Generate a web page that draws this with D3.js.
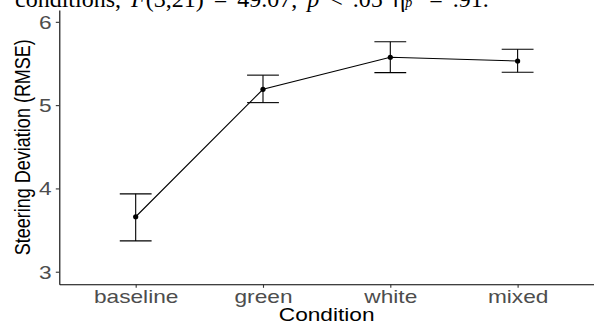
<!DOCTYPE html>
<html>
<head>
<meta charset="utf-8">
<script src="https://cdn.jsdelivr.net/npm/d3@7"></script>
<style>
  html, body { margin: 0; padding: 0; background: #fff; }
  svg { display: block; }
</style>
</head>
<body>
<svg id="chart" width="594" height="322"></svg>
<script>
// ---- data ----
const categories = ["baseline", "green", "white", "mixed"];
const meanValues = [3.66, 5.19, 5.575, 5.53];
const lowerValues = [3.37, 5.03, 5.39, 5.395];
const upperValues = [3.935, 5.36, 5.76, 5.67];
const yTickValues = [3, 4, 5, 6];
const xTitle = "Condition";
const yTitle = "Steering Deviation (RMSE)";

(function () {
const W = 594, H = 322;
const pLeft = 59.3, pRight = 594, pTop = 10, pBottom = 284.3;
const stretch = 1.26;

const svg = d3.select("#chart");

const x = d3.scalePoint().domain(categories).range([pLeft, pRight]).padding(0.6);
const y = d3.scaleLinear().domain([2.849, 6.142]).range([pBottom, pTop]);

// top clipped sentence
const sentence = svg.append("text")
  .attr("x", 15).attr("y", 7)
  .attr("font-family", "'Liberation Serif', 'Times New Roman', serif")
  .attr("font-size", 24)
  .attr("fill", "#000")
  .style("word-spacing", "4px");
sentence.append("tspan").text("conditions, ");
sentence.append("tspan").attr("font-style", "italic").text("F");
sentence.append("tspan").text("(3,21) = 49.07, ");
sentence.append("tspan").attr("font-style", "italic").text("p");
sentence.append("tspan").text(" < .05 η");
sentence.append("tspan").attr("font-style", "italic").attr("font-size", 14).text("p");
sentence.append("tspan").attr("font-size", 14).attr("dy", -10).text("2");
sentence.append("tspan").attr("dy", 10).text(" = .91.");

const fontSans = "'Liberation Sans', Arial, Helvetica, sans-serif";

// y axis
const yAxis = svg.append("g")
  .attr("transform", `translate(${pLeft},0)`)
  .call(d3.axisLeft(y).tickValues(yTickValues).tickSize(3.5).tickSizeOuter(0).tickFormat(d3.format("d")));
yAxis.select(".domain").attr("stroke", "#000").attr("stroke-width", 1.1);
yAxis.selectAll(".tick line").attr("stroke", "#333").attr("stroke-width", 1.1);
yAxis.selectAll(".tick text")
  .attr("x", null).attr("dy", "0.35em")
  .attr("transform", `translate(-7.6,0) scale(${stretch},1)`)
  .attr("text-anchor", "end")
  .attr("fill", "#4d4d4d")
  .attr("font-family", fontSans).attr("font-size", 18);

// x axis
const xAxis = svg.append("g")
  .attr("transform", `translate(0,${pBottom})`)
  .call(d3.axisBottom(x).tickSize(3.5).tickSizeOuter(0));
xAxis.select(".domain").attr("stroke", "#000").attr("stroke-width", 1.1);
xAxis.selectAll(".tick line").attr("stroke", "#333").attr("stroke-width", 1.1);
xAxis.selectAll(".tick text")
  .attr("y", null).attr("dy", null)
  .attr("transform", `translate(0,18.7) scale(${stretch},1)`)
  .attr("text-anchor", "middle")
  .attr("fill", "#4d4d4d")
  .attr("font-family", fontSans).attr("font-size", 18);

// axis titles
svg.append("text")
  .attr("transform", `translate(${(pLeft + pRight) / 2},321) scale(${stretch},1)`)
  .attr("text-anchor", "middle")
  .attr("font-family", fontSans).attr("font-size", 18).attr("fill", "#000")
  .text(xTitle);

svg.append("text")
  .attr("transform", `translate(29.5,${(pTop + pBottom) / 2}) scale(${stretch},1) rotate(-90)`)
  .attr("text-anchor", "middle")
  .attr("font-family", fontSans).attr("font-size", 18).attr("fill", "#000")
  .text(yTitle);

// data
const rows = categories.map((c, i) => ({ c, m: meanValues[i], lo: lowerValues[i], hi: upperValues[i] }));
const capHalf = x.step() * 0.125;

const eb = svg.append("g").selectAll("g").data(rows).join("g");
eb.append("line")
  .attr("x1", d => x(d.c)).attr("x2", d => x(d.c))
  .attr("y1", d => y(d.lo)).attr("y2", d => y(d.hi))
  .attr("stroke", "#000").attr("stroke-width", 1.1);
eb.append("line")
  .attr("x1", d => x(d.c) - capHalf).attr("x2", d => x(d.c) + capHalf)
  .attr("y1", d => y(d.lo)).attr("y2", d => y(d.lo))
  .attr("stroke", "#000").attr("stroke-width", 1.1);
eb.append("line")
  .attr("x1", d => x(d.c) - capHalf).attr("x2", d => x(d.c) + capHalf)
  .attr("y1", d => y(d.hi)).attr("y2", d => y(d.hi))
  .attr("stroke", "#000").attr("stroke-width", 1.1);

svg.append("path")
  .datum(rows)
  .attr("fill", "none").attr("stroke", "#000").attr("stroke-width", 1.1)
  .attr("d", d3.line().x(d => x(d.c)).y(d => y(d.m)));

svg.append("g").selectAll("circle").data(rows).join("circle")
  .attr("cx", d => x(d.c)).attr("cy", d => y(d.m)).attr("r", 2.6)
  .attr("fill", "#000");
})();
</script>
</body>
</html>
